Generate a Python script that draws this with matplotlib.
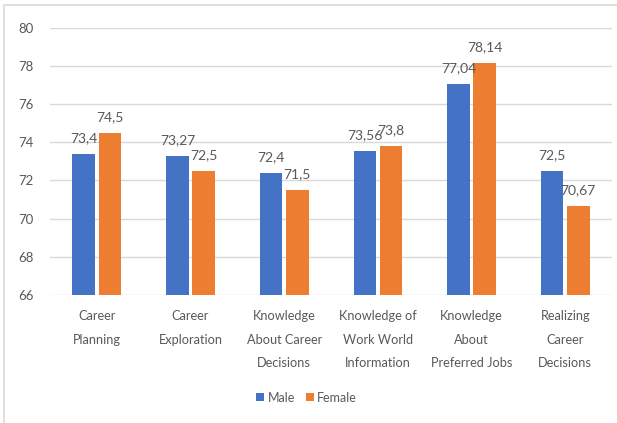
import numpy as np
import matplotlib.pyplot as plt
from matplotlib.patches import Rectangle

plt.rcParams['font.family'] = ['Lato', 'DejaVu Sans']

categories = ['Career\nPlanning', 'Career\nExploration', 'Knowledge\nAbout Career\nDecisions',
              'Knowledge of\nWork World\nInformation', 'Knowledge\nAbout\nPreferred Jobs',
              'Realizing\nCareer\nDecisions']
male = [73.4, 73.27, 72.4, 73.56, 77.04, 72.5]
female = [74.5, 72.5, 71.5, 73.8, 78.14, 70.67]
yticks = [66, 68, 70, 72, 74, 76, 78, 80]

blue = '#4472C4'
orange = '#ED7D31'
txt = '#595959'

fig = plt.figure(figsize=(6.17, 4.23), dpi=100)
ax = fig.add_axes([0.081, 0.3026, 0.911, 0.632])

x = np.arange(len(categories))
w = 0.24
b1 = ax.bar(x - w / 2 - 0.02, male, w, color=blue, label='Male', zorder=3)
b2 = ax.bar(x + w / 2 + 0.02, female, w, color=orange, label='Female', zorder=3)

# etiquetas con coma decimal, como en el original
for bars, vals in ((b1, male), (b2, female)):
    for r, v in zip(bars, vals):
        s = ('%g' % v).replace('.', ',')
        ax.annotate(s, (r.get_x() + r.get_width() / 2, v), xytext=(0, 7),
                    textcoords='offset points', ha='center', va='bottom',
                    fontsize=10, color=txt)

ax.set_ylim(66, 80)
ax.set_xlim(-0.5, len(categories) - 0.5)
ax.set_yticks(yticks)
ax.grid(axis='y', color='#D9D9D9', linewidth=1, zorder=0)
for s in ax.spines.values():
    s.set_visible(False)
ax.tick_params(axis='both', length=0, colors=txt, labelsize=9.5)
ax.tick_params(axis='y', pad=12)
ax.set_xticks(x)
ax.set_xticklabels(categories, linespacing=2.15)
ax.tick_params(axis='x', pad=11, labelsize=9.2)

fig.legend(loc='center', bbox_to_anchor=(0.497, 0.06), ncol=2, frameon=False,
           fontsize=9, labelcolor=txt, handlelength=0.6, handleheight=0.6,
           handletextpad=0.3, columnspacing=0.9)

fig.patches.append(Rectangle((0.006, -0.1), 1.2, 1.088, transform=fig.transFigure,
                             fill=False, edgecolor='#D9D9D9', linewidth=1.2))

fig.savefig('out.png', dpi=100)
